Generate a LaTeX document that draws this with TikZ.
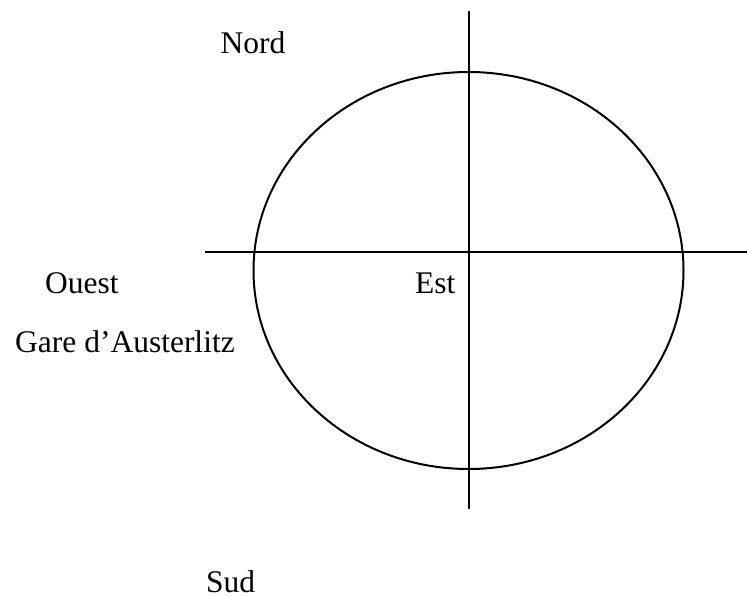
\documentclass[tikz,border=0pt]{standalone}
\usepackage{fontspec}
\setmainfont{Liberation Serif}
\begin{document}
\begin{tikzpicture}[x=1pt,y=-1pt,
  lbl/.style={anchor=base west,inner sep=0pt,font=\fontsize{31.5}{38}\selectfont},
  ln/.style={line width=2pt}]
\useasboundingbox (0,0) rectangle (747,597);
\coordinate (vt) at (468.5,11);
\coordinate (vb) at (468.5,509);
\coordinate (hl) at (205,252);
\coordinate (hr) at (747,252);
\draw[ln] (468.5,270.5) ellipse [x radius=215, y radius=198.5];
\draw[ln] (vt) -- (vb);
\draw[ln] (hl) -- (hr);
\node[lbl] (nord) at (220.5,53) {Nord};
\node[lbl] (ouest) at (45,293) {Ouest};
\node[lbl] (est) at (415,293.5) {Est};
\node[lbl] (gare) at (15,352.5) {Gare d’Austerlitz};
\node[lbl,text depth=0pt] (sud) at (206,592.5) {Sud};
\end{tikzpicture}
\end{document}
